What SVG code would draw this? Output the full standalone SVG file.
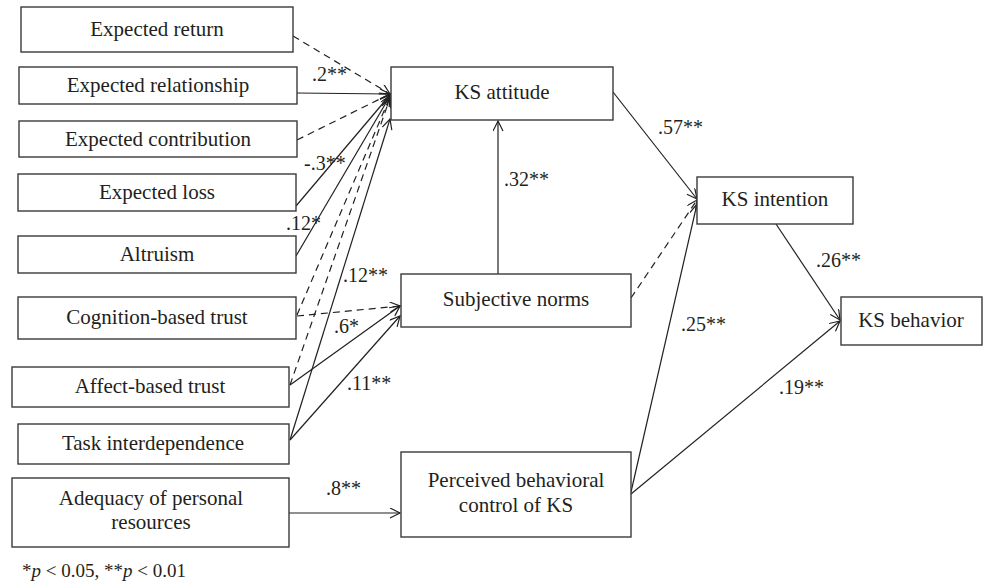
<svg xmlns="http://www.w3.org/2000/svg" width="984" height="588" viewBox="0 0 984 588">
<defs>
<marker id="arr" markerUnits="userSpaceOnUse" markerWidth="14" markerHeight="12" refX="11" refY="5" orient="auto">
<path d="M1,0 L11,5 L1,10" fill="none" stroke="#231f20" stroke-width="1.2"/>
</marker>
</defs>
<style>
.box{fill:#fff;stroke:#3a3a3a;stroke-width:1.4}
.t{font-size:21px;fill:#231f20;text-anchor:middle}
.c{font-size:20px;fill:#231f20}
.s{stroke:#231f20;stroke-width:1.2;fill:none;marker-end:url(#arr)}
.d{stroke:#231f20;stroke-width:1.2;fill:none;stroke-dasharray:7 5;marker-end:url(#arr)}
</style>
<rect width="984" height="588" fill="#fff"/>
<g id="connectors">
<line class="d" x1="293" y1="36" x2="390" y2="94"/>
<line class="s" x1="297" y1="93" x2="390" y2="94"/>
<line class="d" x1="297" y1="140" x2="390" y2="94"/>
<line class="s" x1="296" y1="206" x2="390" y2="95"/>
<line class="s" x1="296" y1="256" x2="390" y2="96"/>
<line class="d" x1="297" y1="315" x2="390" y2="97"/>
<line class="d" x1="290" y1="385" x2="390" y2="98"/>
<line class="s" x1="290" y1="440" x2="390" y2="119"/>
<line class="d" x1="297" y1="316" x2="400" y2="306"/>
<line class="s" x1="290" y1="385" x2="400" y2="306"/>
<line class="s" x1="290" y1="440" x2="400" y2="316"/>
<line class="s" x1="289" y1="513" x2="400" y2="513"/>
<line class="s" x1="498" y1="274" x2="498" y2="121"/>
<line class="s" x1="613" y1="92" x2="697" y2="199"/>
<line class="d" x1="631" y1="298" x2="697" y2="200"/>
<line class="s" x1="631" y1="492" x2="697" y2="204"/>
<line class="s" x1="776" y1="224" x2="840" y2="320"/>
<line class="s" x1="631" y1="494" x2="840" y2="321"/>
</g>
<g font-family="'Liberation Serif', Tinos, 'DejaVu Serif', serif">
<g id="labels">
<text class="c" x="312" y="81">.2**</text>
<text class="c" x="304" y="170">-.3**</text>
<text class="c" x="286" y="230">.12*</text>
<text class="c" x="343" y="282">.12**</text>
<text class="c" x="334" y="333">.6*</text>
<text class="c" x="347" y="390">.11**</text>
<text class="c" x="326" y="495">.8**</text>
<text class="c" x="504" y="186">.32**</text>
<text class="c" x="658" y="134">.57**</text>
<text class="c" x="816" y="267">.26**</text>
<text class="c" x="681" y="331">.25**</text>
<text class="c" x="779" y="394">.19**</text>
</g>
<g id="expected-return"><rect class="box" x="21" y="7" width="272" height="45"/><text class="t" x="157" y="36">Expected return</text></g>
<g id="expected-relationship"><rect class="box" x="19" y="67" width="278" height="37"/><text class="t" x="158" y="92">Expected relationship</text></g>
<g id="expected-contribution"><rect class="box" x="19" y="121" width="278" height="36"/><text class="t" x="158" y="146">Expected contribution</text></g>
<g id="expected-loss"><rect class="box" x="18" y="174" width="278" height="37"/><text class="t" x="157" y="199">Expected loss</text></g>
<g id="altruism"><rect class="box" x="18" y="236" width="278" height="37"/><text class="t" x="157" y="261">Altruism</text></g>
<g id="cognition-based-trust"><rect class="box" x="18" y="297" width="278" height="42"/><text class="t" x="157" y="324">Cognition-based trust</text></g>
<g id="affect-based-trust"><rect class="box" x="12" y="367" width="277" height="40"/><text class="t" x="150" y="393">Affect-based trust</text></g>
<g id="task-interdependence"><rect class="box" x="18" y="424" width="271" height="40"/><text class="t" x="153" y="450">Task interdependence</text></g>
<g id="adequacy"><rect class="box" x="12" y="478" width="277" height="69"/><text class="t" x="151" y="505">Adequacy of personal</text><text class="t" x="151" y="529">resources</text></g>
<g id="ks-attitude"><rect class="box" x="391" y="67" width="222" height="53"/><text class="t" x="502" y="99">KS attitude</text></g>
<g id="subjective-norms"><rect class="box" x="401" y="274" width="230" height="53"/><text class="t" x="516" y="306">Subjective norms</text></g>
<g id="pbc"><rect class="box" x="401" y="452" width="230" height="85"/><text class="t" x="516" y="487">Perceived behavioral</text><text class="t" x="516" y="512">control of KS</text></g>
<g id="ks-intention"><rect class="box" x="697" y="177" width="156" height="47"/><text class="t" x="775" y="206">KS intention</text></g>
<g id="ks-behavior"><rect class="box" x="841" y="297" width="141" height="48"/><text class="t" x="911" y="327">KS behavior</text></g>
<g id="footnote"><text class="c" x="22" y="577" style="font-size:19px">*<tspan font-style="italic">p</tspan> &lt; 0.05, **<tspan font-style="italic">p</tspan> &lt; 0.01</text></g>
</g>
</svg>
